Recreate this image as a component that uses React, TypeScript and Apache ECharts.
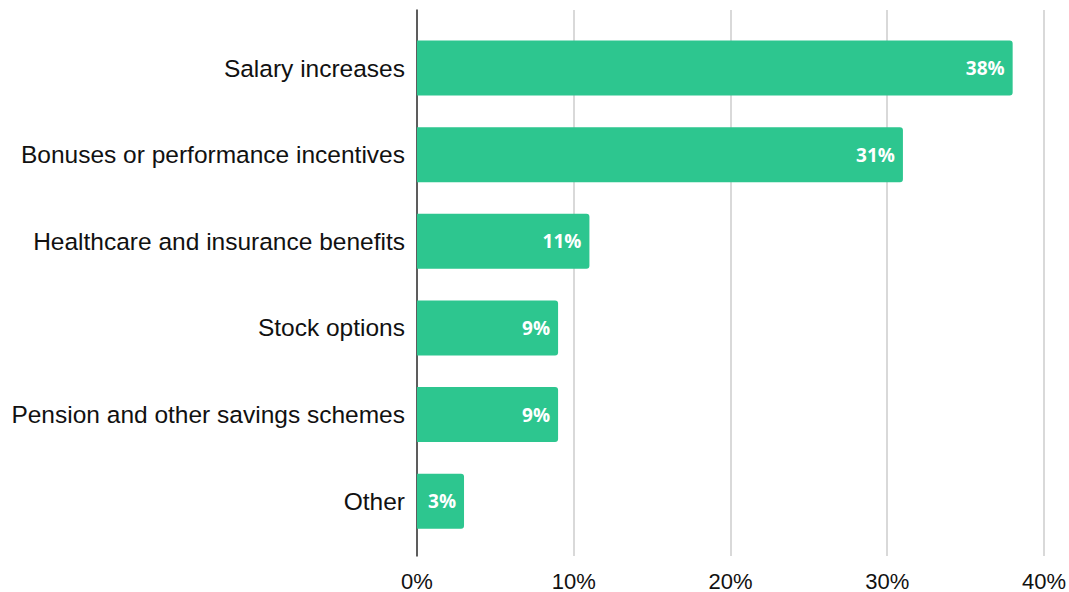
import React, { useEffect, useRef } from "react";
import * as echarts from "echarts";

const categories = [
  "Salary increases",
  "Bonuses or performance incentives",
  "Healthcare and insurance benefits",
  "Stock options",
  "Pension and other savings schemes",
  "Other",
];
const values = [38, 31, 11, 9, 9, 3];
const xTicks = [0, 10, 20, 30, 40];

export default function App() {
  const ref = useRef<HTMLDivElement>(null);
  useEffect(() => {
    document.body.style.margin = "0";
    const chart = echarts.init(ref.current!, null, { renderer: "svg" });
    chart.setOption({
      animation: false,
      grid: [
        { left: 417, right: 25, top: 10, bottom: 36 },
        { left: 417, right: 25, top: 24.7, bottom: 47.5 },
      ],
      xAxis: [
        {
          gridIndex: 0,
          type: "value",
          min: xTicks[0],
          max: xTicks[xTicks.length - 1],
          interval: 10,
          axisLine: { show: false },
          axisTick: { show: false },
          splitLine: { show: true, lineStyle: { color: "#cccccc", width: 1.5 } },
          axisLabel: {
            formatter: "{value}%",
            fontFamily: "Liberation Sans",
            fontSize: 22,
            color: "#111",
            margin: 14,
          },
        },
        {
          gridIndex: 1,
          type: "value",
          min: 0,
          max: 40,
          show: false,
        },
      ],
      yAxis: [
        {
          gridIndex: 0,
          type: "value",
          min: 0,
          max: 1,
          axisLine: { show: true, onZero: false, lineStyle: { color: "#333", width: 1.5 } },
          axisTick: { show: false },
          axisLabel: { show: false },
          splitLine: { show: false },
        },
        {
          gridIndex: 1,
          type: "category",
          inverse: true,
          data: categories,
          axisLine: { show: false },
          axisTick: { show: false },
          axisLabel: {
            fontFamily: "Liberation Sans",
            fontSize: 24.5,
            color: "#111",
            margin: 12,
          },
        },
      ],
      series: [
        {
          type: "bar",
          xAxisIndex: 1,
          yAxisIndex: 1,
          data: values,
          barCategoryGap: "36.5%",
          itemStyle: { color: "#2DC68F", borderRadius: [0, 3, 3, 0] },
          label: {
            show: true,
            position: "insideRight",
            distance: 8,
            formatter: "{c}%",
            color: "#fff",
            fontFamily: "Open Sans",
            fontWeight: "bold",
            fontSize: 19,
          },
        },
      ],
    });
    return () => chart.dispose();
  }, []);
  return <div ref={ref} style={{ width: 1069, height: 592 }} />;
}
